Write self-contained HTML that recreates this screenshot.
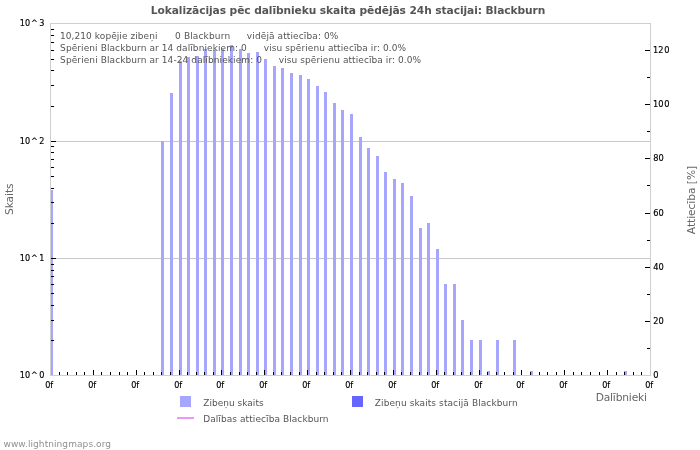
<!DOCTYPE html>
<html lang="lv"><head><meta charset="utf-8"><title>Lokalizācijas pēc dalībnieku skaita pēdējās 24h stacijai: Blackburn</title>
<style>html,body{margin:0;padding:0;background:#fff;overflow:hidden}svg{display:block}text{font-family:"DejaVu Sans","Liberation Sans",sans-serif;font-size:9px;fill:#555;white-space:pre}.t{font-weight:bold;font-size:10.667px}.a{font-size:10.667px;fill:#666}.k{fill:#000;stroke:#000;stroke-width:0.18px}.f{fill:#909090}</style></head><body>
<svg width="700" height="450" viewBox="0 0 700 450">
<rect width="700" height="450" fill="#fff"/>
<g shape-rendering="crispEdges">
<rect x="51" y="141" width="599" height="1" fill="#c8c8c8"/>
<rect x="51" y="258" width="599" height="1" fill="#c8c8c8"/>
<g fill="#a6a6ff">
<rect x="50" y="190" width="3" height="185"/>
<rect x="161" y="141" width="3" height="234"/>
<rect x="170" y="93" width="3" height="282"/>
<rect x="179" y="61" width="3" height="314"/>
<rect x="187" y="57" width="3" height="318"/>
<rect x="196" y="56" width="3" height="319"/>
<rect x="204" y="49" width="3" height="326"/>
<rect x="213" y="50" width="3" height="325"/>
<rect x="221" y="49" width="3" height="326"/>
<rect x="230" y="45" width="3" height="330"/>
<rect x="239" y="49" width="3" height="326"/>
<rect x="247" y="53" width="3" height="322"/>
<rect x="256" y="52" width="3" height="323"/>
<rect x="264" y="59" width="3" height="316"/>
<rect x="273" y="66" width="3" height="309"/>
<rect x="281" y="68" width="3" height="307"/>
<rect x="290" y="73" width="3" height="302"/>
<rect x="299" y="75" width="3" height="300"/>
<rect x="307" y="79" width="3" height="296"/>
<rect x="316" y="86" width="3" height="289"/>
<rect x="324" y="92" width="3" height="283"/>
<rect x="333" y="103" width="3" height="272"/>
<rect x="341" y="110" width="3" height="265"/>
<rect x="350" y="114" width="3" height="261"/>
<rect x="359" y="137" width="3" height="238"/>
<rect x="367" y="148" width="3" height="227"/>
<rect x="376" y="156" width="3" height="219"/>
<rect x="384" y="172" width="3" height="203"/>
<rect x="393" y="179" width="3" height="196"/>
<rect x="401" y="183" width="3" height="192"/>
<rect x="410" y="196" width="3" height="179"/>
<rect x="419" y="228" width="3" height="147"/>
<rect x="427" y="223" width="3" height="152"/>
<rect x="436" y="249" width="3" height="126"/>
<rect x="444" y="284" width="3" height="91"/>
<rect x="453" y="284" width="3" height="91"/>
<rect x="461" y="320" width="3" height="55"/>
<rect x="470" y="340" width="3" height="35"/>
<rect x="479" y="340" width="3" height="35"/>
<rect x="487" y="371" width="3" height="4"/>
<rect x="496" y="340" width="3" height="35"/>
<rect x="513" y="340" width="3" height="35"/>
<rect x="530" y="371" width="3" height="4"/>
<rect x="624" y="371" width="3" height="4"/>
</g>
<g fill="#cfcfcf"><rect x="50" y="23" width="601" height="1"/><rect x="50" y="375" width="601" height="1"/><rect x="50" y="23" width="1" height="353"/><rect x="650" y="23" width="1" height="353"/></g>
<g fill="#000">
<rect x="59" y="372" width="1" height="3"/>
<rect x="67" y="372" width="1" height="3"/>
<rect x="76" y="372" width="1" height="3"/>
<rect x="84" y="372" width="1" height="3"/>
<rect x="93" y="370" width="1" height="5"/>
<rect x="101" y="372" width="1" height="3"/>
<rect x="110" y="372" width="1" height="3"/>
<rect x="119" y="372" width="1" height="3"/>
<rect x="127" y="372" width="1" height="3"/>
<rect x="136" y="370" width="1" height="5"/>
<rect x="144" y="372" width="1" height="3"/>
<rect x="153" y="372" width="1" height="3"/>
<rect x="161" y="372" width="1" height="3"/>
<rect x="170" y="372" width="1" height="3"/>
<rect x="179" y="370" width="1" height="5"/>
<rect x="187" y="372" width="1" height="3"/>
<rect x="196" y="372" width="1" height="3"/>
<rect x="204" y="372" width="1" height="3"/>
<rect x="213" y="372" width="1" height="3"/>
<rect x="221" y="370" width="1" height="5"/>
<rect x="230" y="372" width="1" height="3"/>
<rect x="239" y="372" width="1" height="3"/>
<rect x="247" y="372" width="1" height="3"/>
<rect x="256" y="372" width="1" height="3"/>
<rect x="264" y="370" width="1" height="5"/>
<rect x="273" y="372" width="1" height="3"/>
<rect x="281" y="372" width="1" height="3"/>
<rect x="290" y="372" width="1" height="3"/>
<rect x="299" y="372" width="1" height="3"/>
<rect x="307" y="370" width="1" height="5"/>
<rect x="316" y="372" width="1" height="3"/>
<rect x="324" y="372" width="1" height="3"/>
<rect x="333" y="372" width="1" height="3"/>
<rect x="341" y="372" width="1" height="3"/>
<rect x="350" y="370" width="1" height="5"/>
<rect x="359" y="372" width="1" height="3"/>
<rect x="367" y="372" width="1" height="3"/>
<rect x="376" y="372" width="1" height="3"/>
<rect x="384" y="372" width="1" height="3"/>
<rect x="393" y="370" width="1" height="5"/>
<rect x="401" y="372" width="1" height="3"/>
<rect x="410" y="372" width="1" height="3"/>
<rect x="419" y="372" width="1" height="3"/>
<rect x="427" y="372" width="1" height="3"/>
<rect x="436" y="370" width="1" height="5"/>
<rect x="444" y="372" width="1" height="3"/>
<rect x="453" y="372" width="1" height="3"/>
<rect x="461" y="372" width="1" height="3"/>
<rect x="470" y="372" width="1" height="3"/>
<rect x="479" y="370" width="1" height="5"/>
<rect x="487" y="372" width="1" height="3"/>
<rect x="496" y="372" width="1" height="3"/>
<rect x="504" y="372" width="1" height="3"/>
<rect x="513" y="372" width="1" height="3"/>
<rect x="521" y="370" width="1" height="5"/>
<rect x="530" y="372" width="1" height="3"/>
<rect x="539" y="372" width="1" height="3"/>
<rect x="547" y="372" width="1" height="3"/>
<rect x="556" y="372" width="1" height="3"/>
<rect x="564" y="370" width="1" height="5"/>
<rect x="573" y="372" width="1" height="3"/>
<rect x="581" y="372" width="1" height="3"/>
<rect x="590" y="372" width="1" height="3"/>
<rect x="599" y="372" width="1" height="3"/>
<rect x="607" y="370" width="1" height="5"/>
<rect x="616" y="372" width="1" height="3"/>
<rect x="624" y="372" width="1" height="3"/>
<rect x="633" y="372" width="1" height="3"/>
<rect x="641" y="372" width="1" height="3"/>
<rect x="51" y="29" width="3" height="1"/>
<rect x="51" y="35" width="3" height="1"/>
<rect x="51" y="42" width="3" height="1"/>
<rect x="51" y="50" width="3" height="1"/>
<rect x="51" y="59" width="3" height="1"/>
<rect x="51" y="70" width="3" height="1"/>
<rect x="51" y="85" width="3" height="1"/>
<rect x="51" y="106" width="3" height="1"/>
<rect x="51" y="146" width="3" height="1"/>
<rect x="51" y="152" width="3" height="1"/>
<rect x="51" y="159" width="3" height="1"/>
<rect x="51" y="167" width="3" height="1"/>
<rect x="51" y="176" width="3" height="1"/>
<rect x="51" y="188" width="3" height="1"/>
<rect x="51" y="202" width="3" height="1"/>
<rect x="51" y="223" width="3" height="1"/>
<rect x="51" y="264" width="3" height="1"/>
<rect x="51" y="270" width="3" height="1"/>
<rect x="51" y="276" width="3" height="1"/>
<rect x="51" y="284" width="3" height="1"/>
<rect x="51" y="293" width="3" height="1"/>
<rect x="51" y="305" width="3" height="1"/>
<rect x="51" y="320" width="3" height="1"/>
<rect x="51" y="340" width="3" height="1"/>
<rect x="51" y="141" width="5" height="1"/>
<rect x="51" y="258" width="5" height="1"/>
<rect x="647" y="348" width="3" height="1"/>
<rect x="645" y="321" width="5" height="1"/>
<rect x="647" y="294" width="3" height="1"/>
<rect x="645" y="267" width="5" height="1"/>
<rect x="647" y="240" width="3" height="1"/>
<rect x="645" y="213" width="5" height="1"/>
<rect x="647" y="185" width="3" height="1"/>
<rect x="645" y="158" width="5" height="1"/>
<rect x="647" y="131" width="3" height="1"/>
<rect x="645" y="104" width="5" height="1"/>
<rect x="647" y="77" width="3" height="1"/>
<rect x="645" y="50" width="5" height="1"/>
</g></g>
<text class="t" y="14"><tspan x="150.80" letter-spacing="-0.082">Lokalizācijas pēc dalībnieku skaita pēdējās 24h stacijai: Blackburn</tspan></text>
<text y="38.7"><tspan x="60.02" letter-spacing="0.068">10,210 kopējie zibeņi </tspan><tspan x="175.03" letter-spacing="0.147">0 Blackburn </tspan><tspan x="246.85" letter-spacing="0.114">vidējā attiecība: 0%</tspan></text>
<text y="50.7"><tspan x="60.12" letter-spacing="0.086">Spērieni Blackburn ar 14 dalībniekiem: 0 </tspan><tspan x="263.85" letter-spacing="0.075">visu spērienu attiecība ir: 0.0%</tspan></text>
<text y="62.7"><tspan x="60.12" letter-spacing="0.090">Spērieni Blackburn ar 14-24 dalībniekiem: 0 </tspan><tspan x="278.85" letter-spacing="0.075">visu spērienu attiecība ir: 0.0%</tspan></text>
<text class="k" transform="translate(19.84,26) scale(0.9,1)">10<tspan dx="0.9">^</tspan><tspan dx="1.7">3</tspan></text>
<text class="k" transform="translate(19.84,144) scale(0.9,1)">10<tspan dx="0.9">^</tspan><tspan dx="1.7">2</tspan></text>
<text class="k" transform="translate(19.84,261) scale(0.9,1)">10<tspan dx="0.9">^</tspan><tspan dx="1.7">1</tspan></text>
<text class="k" transform="translate(19.84,378) scale(0.9,1)">10<tspan dx="0.9">^</tspan><tspan dx="1.7">0</tspan></text>
<text class="k" transform="translate(653.20,378) scale(0.92,1)">0</text>
<text class="k" transform="translate(653.15,324) scale(0.92,1)">20</text>
<text class="k" transform="translate(653.29,270) scale(0.92,1)">40</text>
<text class="k" transform="translate(653.18,216) scale(0.92,1)">60</text>
<text class="k" transform="translate(653.19,161) scale(0.92,1)">80</text>
<text class="k" transform="translate(653.12,107) scale(0.92,1)">10<tspan dx="0.7">0</tspan></text>
<text class="k" transform="translate(653.12,53) scale(0.92,1)">12<tspan dx="0.7">0</tspan></text>
<text class="k" transform="translate(45.21,387.8) scale(0.9,1)">0f</text>
<text class="k" transform="translate(88.21,387.8) scale(0.9,1)">0f</text>
<text class="k" transform="translate(131.21,387.8) scale(0.9,1)">0f</text>
<text class="k" transform="translate(174.21,387.8) scale(0.9,1)">0f</text>
<text class="k" transform="translate(216.21,387.8) scale(0.9,1)">0f</text>
<text class="k" transform="translate(259.21,387.8) scale(0.9,1)">0f</text>
<text class="k" transform="translate(302.21,387.8) scale(0.9,1)">0f</text>
<text class="k" transform="translate(345.21,387.8) scale(0.9,1)">0f</text>
<text class="k" transform="translate(388.21,387.8) scale(0.9,1)">0f</text>
<text class="k" transform="translate(431.21,387.8) scale(0.9,1)">0f</text>
<text class="k" transform="translate(474.21,387.8) scale(0.9,1)">0f</text>
<text class="k" transform="translate(516.21,387.8) scale(0.9,1)">0f</text>
<text class="k" transform="translate(559.21,387.8) scale(0.9,1)">0f</text>
<text class="k" transform="translate(602.21,387.8) scale(0.9,1)">0f</text>
<text class="k" transform="translate(645.21,387.8) scale(0.9,1)">0f</text>
<text class="a" y="401"><tspan x="595.67" letter-spacing="-0.163">Dalībnieki</tspan></text>
<text y="405.8"><tspan x="203.21" letter-spacing="0.021">Zibeņu skaits</tspan></text>
<text y="405.8"><tspan x="374.81" letter-spacing="0.092">Zibeņu skaits stacijā Blackburn</tspan></text>
<text y="422"><tspan x="203.20" letter-spacing="0.077">Dalības attiecība Blackburn</tspan></text>
<text class="f" y="446.6"><tspan x="3.51" letter-spacing="0.075">www.lightningmaps.org</tspan></text>
<text class="a" transform="translate(13.3,199.2) rotate(-90)" text-anchor="middle" textLength="31.7" lengthAdjust="spacing">Skaits</text>
<text class="a" transform="translate(695.2,200.0) rotate(-90)" text-anchor="middle" textLength="68.3" lengthAdjust="spacing">Attiecība [%]</text>
<g shape-rendering="crispEdges"><rect x="180" y="396" width="11" height="11" fill="#a6a6ff"/><rect x="352" y="396" width="11" height="11" fill="#6666ff"/><rect x="177" y="417" width="17" height="2" fill="#eb96fb"/></g>
</svg></body></html>
